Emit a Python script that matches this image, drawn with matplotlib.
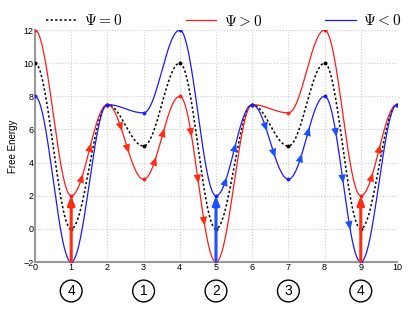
import matplotlib.pyplot as plt
import numpy as np

plt.rcParams['mathtext.fontset'] = 'cm'
plt.rcParams['font.family'] = ['Liberation Sans', 'DejaVu Sans']

# free energy at each knot (x = 0..10)
x_knots = np.arange(11)
f_zero = [10, 0, 7.5, 5, 10, 0, 7.5, 5, 10, 0, 7.5]
f_pos = [12, 2, 7.5, 3, 8, -2, 7.5, 7, 12, 2, 7.5]
f_neg = [8, -2, 7.5, 7, 12, 2, 7.5, 3, 8, -2, 7.5]

# arrow positions along the curves (x coordinates)
red_arrows = [1.29, 1.52, 2.37, 2.56, 3.31, 3.54, 4.31, 4.5, 4.67, 9.3, 9.51]
blue_arrows = [5.26, 5.52, 6.37, 6.6, 7.34, 7.55, 8.31, 8.5, 8.69]
red_vert = [1, 9]
blue_vert = [5]

step_x = [1, 3, 5, 7, 9]
step_labels = ['4', '1', '2', '3', '4']

RED = '#ff1a1a'
BLUE = '#1a1aff'
RED_A = '#ff2a10'
BLUE_A = '#1a50ff'


def smooth(knots, x):
    # cosine blend between neighbouring knots
    x = np.atleast_1d(x)
    k = np.clip(np.floor(x).astype(int), 0, len(knots) - 2)
    t = x - k
    a = np.asarray(knots, float)[k]
    b = np.asarray(knots, float)[k + 1]
    return a + (b - a) * (1 - np.cos(np.pi * t)) / 2


fig = plt.figure(figsize=(4.15, 3.21), dpi=100)
ax = fig.add_axes([0.0843, 0.1838, 0.8723, 0.7227])
ax.set_xlim(0, 10)
ax.set_ylim(-2, 12)

xs = np.linspace(0, 10, 1001)
ax.plot(xs, smooth(f_zero, xs), color='black', lw=1.1, ls=(0, (1.5, 1.5)), label=r'$\Psi = 0$')
ax.plot(xs, smooth(f_pos, xs), color=RED, lw=0.9, label=r'$\Psi > 0$')
ax.plot(xs, smooth(f_neg, xs), color=BLUE, lw=0.9, label=r'$\Psi < 0$')
for f, c in [(f_zero, 'black'), (f_pos, RED), (f_neg, BLUE)]:
    ax.plot(x_knots, f, 'o', color=c, ms=1.8, zorder=3)


def curve_arrows(knots, xlist, color):
    tr = ax.transData
    inv = tr.inverted()
    L = 9.0  # pixels
    for x in xlist:
        k = int(np.floor(x))
        sgn = 1 if knots[k + 1] > knots[k] else -1
        p0 = tr.transform((x, smooth(knots, x)[0]))
        p1 = tr.transform((x + 0.01, smooth(knots, x + 0.01)[0]))
        u = (p1 - p0) / np.hypot(*(p1 - p0))
        # travel direction: uphill on rising parts, downhill on falling ones
        if (u[1] > 0) != (sgn > 0):
            u = -u
        tip = inv.transform(p0 + u * L / 2)
        tail = inv.transform(p0 - u * L / 2)
        ax.annotate('', xy=tip, xytext=tail,
                    arrowprops=dict(arrowstyle='-|>,head_length=0.65,head_width=0.27',
                                    color=color, lw=0, mutation_scale=10,
                                    shrinkA=0, shrinkB=0), zorder=4)


curve_arrows(f_pos, red_arrows, RED_A)
curve_arrows(f_neg, blue_arrows, BLUE_A)

vprops = dict(arrowstyle='-|>,head_length=0.5,head_width=0.2', lw=2.2,
              mutation_scale=10, shrinkA=0, shrinkB=0)
for x in red_vert:
    ax.annotate('', xy=(x, f_pos[x]), xytext=(x, f_neg[x]),
                arrowprops=dict(color=RED_A, **vprops), zorder=5)
for x in blue_vert:
    ax.annotate('', xy=(x, f_neg[x]), xytext=(x, f_pos[x]),
                arrowprops=dict(color=BLUE_A, **vprops), zorder=5)

for x, s in zip(step_x, step_labels):
    ax.text(x, -0.125, s, transform=ax.get_xaxis_transform(), ha='center', va='center',
            fontsize=10, bbox=dict(boxstyle='circle,pad=0.28', fc='white', ec='black', lw=1))

ax.set_xticks(range(0, 11))
ax.set_yticks(range(-2, 13, 2))
ax.tick_params(labelsize=6.5, length=0, pad=1)
ax.grid(True, ls=':', color='#cccccc', lw=0.8)
for s in ['top', 'right']:
    ax.spines[s].set_visible(False)
for s in ['left', 'bottom']:
    ax.spines[s].set_color('#999999')
    ax.spines[s].set_linewidth(1.5)
ax.set_ylabel('Free Energy', fontsize=7, labelpad=4)

ax.legend(loc='lower left', bbox_to_anchor=(0.027, 1.0, 0.99, 0.06), mode='expand', ncol=3,
          frameon=False, fontsize=11, handlelength=2.0, handletextpad=0.5, borderaxespad=0.0,
          borderpad=0.1)

fig.savefig('out.png', dpi=100)
